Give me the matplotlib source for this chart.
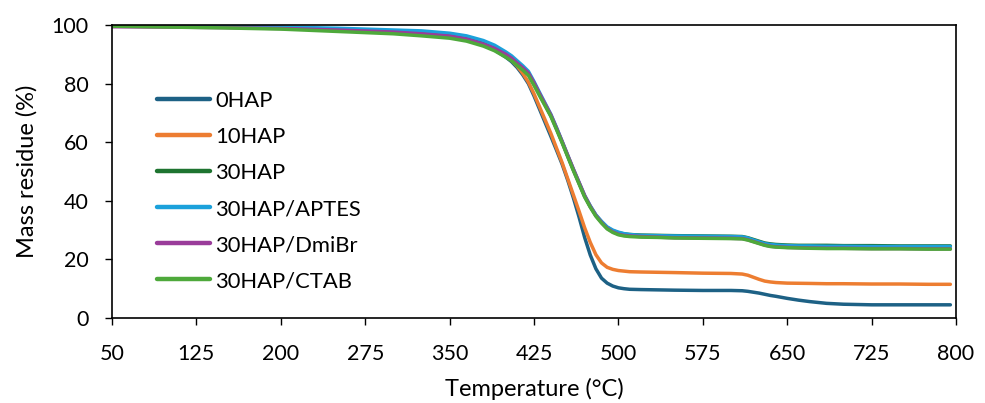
import matplotlib
matplotlib.use("Agg")
import matplotlib.pyplot as plt

temps = [50, 100, 150, 200, 250, 300,
         325, 350, 365, 380, 390,
         400, 405, 410, 415, 420, 425, 430, 435, 440, 445,
         450, 455, 460, 465, 470, 475, 480, 485, 490, 495,
         500, 505, 510, 520, 535, 550, 575, 600,
         610, 615, 620, 625, 630, 635, 640, 650, 660, 670,
         685, 700, 725, 750, 775, 795]

hap0 = [99.6, 99.5, 99.3, 99.0, 98.5, 97.8,
        97.2, 96.3, 95.3, 93.4, 91.5,
        89.0, 87.5, 85.5, 83.0, 80.0, 75.8, 71.2, 66.6, 62.0, 57.3,
        52.5, 47.0, 41.0, 34.5, 27.5, 21.5, 16.8, 13.6, 11.9, 10.9,
        10.3, 10.0, 9.8, 9.7, 9.6, 9.5, 9.4, 9.4,
        9.3, 9.1, 8.8, 8.5, 8.1, 7.7, 7.4, 6.7, 6.1, 5.6,
        5.0, 4.7, 4.5, 4.5, 4.5, 4.5]
hap10 = [99.6, 99.5, 99.3, 99.0, 98.5, 97.8,
         97.2, 96.3, 95.4, 93.6, 91.8,
         89.5, 88.0, 86.0, 83.5, 80.5, 76.5, 72.0, 67.5, 63.0, 58.0,
         53.0, 47.5, 42.0, 36.5, 30.8, 25.8, 21.6, 18.8, 17.3, 16.6,
         16.2, 16.0, 15.8, 15.7, 15.6, 15.5, 15.3, 15.2,
         15.0, 14.6, 13.9, 13.2, 12.6, 12.3, 12.1, 11.9, 11.85, 11.8,
         11.7, 11.7, 11.6, 11.6, 11.5, 11.5]
hap30 = [99.7, 99.6, 99.4, 99.1, 98.6, 97.9,
         97.3, 96.5, 95.5, 93.8, 92.2,
         90.0, 88.7, 87.0, 85.3, 83.5, 80.0, 76.2, 72.6, 69.0, 64.6,
         60.0, 55.2, 50.5, 46.0, 41.5, 38.0, 35.0, 32.8, 30.9, 29.8,
         29.1, 28.7, 28.5, 28.3, 28.2, 28.1, 28.0, 27.9,
         27.8, 27.4, 26.8, 26.2, 25.6, 25.3, 25.1, 24.9, 24.8, 24.8,
         24.8, 24.7, 24.7, 24.6, 24.6, 24.6]
hap30_aptes = [99.7, 99.6, 99.5, 99.3, 98.9, 98.3,
               98.0, 97.2, 96.3, 94.7, 93.1,
               90.8, 89.5, 87.8, 86.1, 84.2, 80.7, 76.9, 73.2, 69.5, 65.0,
               60.3, 55.5, 50.8, 46.3, 41.8, 38.3, 35.2, 33.0, 31.1, 30.0,
               29.3, 28.8, 28.5, 28.2, 28.1, 28.0, 27.9, 27.8,
               27.7, 27.3, 26.6, 26.0, 25.4, 25.1, 24.9, 24.7, 24.6, 24.6,
               24.5, 24.5, 24.4, 24.4, 24.4, 24.4]
hap30_dmibr = [99.4, 99.3, 99.1, 98.8, 98.3, 97.6,
               97.0, 96.2, 95.2, 93.5, 92.0,
               90.0, 88.7, 87.0, 85.4, 83.6, 80.3, 76.5, 72.9, 69.3, 64.8,
               60.2, 55.5, 50.8, 46.3, 41.8, 38.1, 35.0, 32.6, 30.6, 29.4,
               28.6, 28.2, 28.0, 27.8, 27.6, 27.4, 27.3, 27.2,
               27.1, 26.7, 26.1, 25.5, 24.9, 24.5, 24.3, 24.1, 24.0, 23.9,
               23.8, 23.8, 23.7, 23.7, 23.6, 23.6]
hap30_ctab = [99.6, 99.3, 99.0, 98.6, 97.8, 97.0,
              96.3, 95.5, 94.5, 92.8, 91.2,
              89.0, 87.8, 86.2, 84.6, 82.8, 79.4, 75.8, 72.3, 68.8, 64.3,
              59.8, 55.0, 50.3, 45.8, 41.3, 37.8, 34.7, 32.4, 30.4, 29.2,
              28.4, 28.0, 27.8, 27.6, 27.5, 27.3, 27.2, 27.1,
              27.0, 26.6, 26.0, 25.4, 24.8, 24.4, 24.2, 24.0, 23.9, 23.8,
              23.7, 23.7, 23.6, 23.6, 23.5, 23.5]

labels = ["0HAP", "10HAP", "30HAP", "30HAP/APTES", "30HAP/DmiBr", "30HAP/CTAB"]
series = [hap0, hap10, hap30, hap30_aptes, hap30_dmibr, hap30_ctab]
colors = ["#1d6185", "#ed7d31", "#1e7430", "#1ba1db", "#9a3c9a", "#4ea93b"]

x_ticks = [50, 125, 200, 275, 350, 425, 500, 575, 650, 725, 800]
y_ticks = [0, 20, 40, 60, 80, 100]

plt.rcParams['font.family'] = ['Lato', 'DejaVu Sans']

fig = plt.figure(figsize=(9.85, 4.03), dpi=100)
ax = fig.add_axes([112/985, 1 - 318/403, (956-112)/985, (318-25)/403])

for vals, lab, col in zip(series, labels, colors):
    ax.plot(temps, vals, color=col, lw=2.5, label=lab,
            solid_capstyle='round', solid_joinstyle='round')

ax.set_xlim(50, 800)
ax.set_ylim(0, 100)
ax.set_xticks(x_ticks)
ax.set_yticks(y_ticks)
ax.tick_params(axis='both', direction='out', length=5, width=1.0, labelsize=15.5, color='black')
ax.tick_params(axis='x', pad=14)
ax.tick_params(axis='y', pad=12)
for s in ax.spines.values():
    s.set_linewidth(1.2)
    s.set_color('black')

ax.set_xlabel("Temperature (°C)", fontsize=17, labelpad=10)
ax.set_ylabel("Mass residue (%)", fontsize=17, labelpad=10)

leg = ax.legend(loc='upper left', bbox_to_anchor=(45/844, (318-91)/293), frameon=False,
                fontsize=15.8, handlelength=2.42, handletextpad=0.23, labelspacing=0.73,
                borderaxespad=0, borderpad=0)
for h in leg.get_lines():
    h.set_linewidth(3.2)

fig.savefig("out.png", dpi=100)
